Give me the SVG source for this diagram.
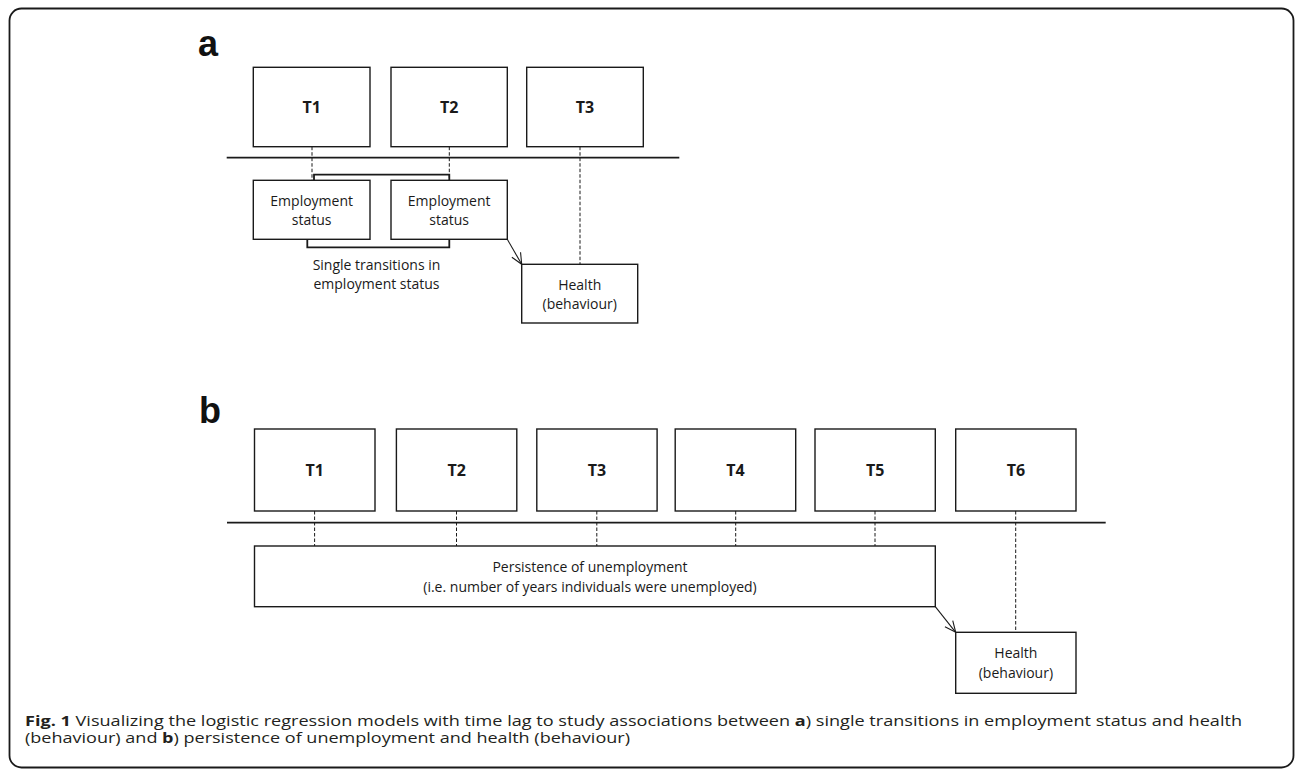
<svg xmlns="http://www.w3.org/2000/svg" width="1295" height="770" viewBox="0 0 1295 770">
<style>
.box{fill:#fff;stroke:#1a1a1a;stroke-width:1.4}
.tl{font-family:"Open Sans","Liberation Sans",sans-serif;font-weight:bold;font-size:16px;fill:#1a1a1a;text-anchor:middle}
.lb{font-family:"Open Sans","Liberation Sans",sans-serif;font-size:14px;fill:#1a1a1a;text-anchor:middle}
.pl{font-family:"Liberation Sans",Arial,sans-serif;font-weight:bold;font-size:36px;fill:#111}
.axis{stroke:#1a1a1a;stroke-width:1.8;fill:none}
.dash{stroke:#1a1a1a;stroke-width:1;stroke-dasharray:3.5 2;fill:none}
.brk{stroke:#1a1a1a;stroke-width:1.8;fill:none}
.arr{stroke:#1a1a1a;stroke-width:1.1;fill:none;marker-end:url(#oa)}
.cap{font-family:"Open Sans","Liberation Sans",sans-serif;font-size:14.5px;fill:#231f20}
</style>
<defs>
<marker id="oa" markerWidth="14" markerHeight="14" refX="12" refY="6" orient="auto" markerUnits="userSpaceOnUse">
<path d="M1,1 L12,6 L1,11" fill="none" stroke="#1a1a1a" stroke-width="1.1"/>
</marker>
</defs>
<rect x="9.5" y="8.5" width="1284" height="759" rx="12" ry="12" fill="#fff" stroke="#1a1a1a" stroke-width="1.8"/>

<text class="pl" x="198" y="56">a</text>
<text class="pl" x="199" y="422.7">b</text>

<g id="connectors">
<line class="axis" x1="226.7" y1="157.7" x2="679.3" y2="157.7"/>
<line class="dash" x1="312" y1="146.7" x2="312" y2="180.3"/>
<line class="dash" x1="449.3" y1="146.7" x2="449.3" y2="180.3"/>
<line class="dash" x1="580" y1="146.7" x2="580" y2="264.3"/>
<path class="brk" d="M314,180.3 V174.7 H449.3 V180.3"/>
<path class="brk" d="M307.3,239.3 V247.3 H449.3 V239.3"/>
<line class="arr" x1="507.3" y1="239.3" x2="521.7" y2="264.3"/>

<line class="axis" x1="227" y1="522.7" x2="1105.7" y2="522.7"/>
<line class="dash" x1="314.6" y1="511" x2="314.6" y2="546"/>
<line class="dash" x1="456.5" y1="511" x2="456.5" y2="546"/>
<line class="dash" x1="596.8" y1="511" x2="596.8" y2="546"/>
<line class="dash" x1="735.7" y1="511" x2="735.7" y2="546"/>
<line class="dash" x1="875" y1="511" x2="875" y2="546"/>
<line class="dash" x1="1015.7" y1="511" x2="1015.7" y2="632.3"/>
<line class="arr" x1="935.3" y1="606.7" x2="955.7" y2="632.3"/>
</g>

<g id="a-T1"><rect class="box" x="253.3" y="67.3" width="116.7" height="79.4"/><text class="tl" x="311.7" y="113.3">T1</text></g>
<g id="a-T2"><rect class="box" x="391" y="67.3" width="116.3" height="79.4"/><text class="tl" x="449.2" y="113.3">T2</text></g>
<g id="a-T3"><rect class="box" x="526.7" y="67.3" width="116.6" height="79.4"/><text class="tl" x="585" y="113.3">T3</text></g>
<g id="a-emp1"><rect class="box" x="253.3" y="180.3" width="116.7" height="59"/><text class="lb" x="311.7" y="206">Employment</text><text class="lb" x="311.7" y="225">status</text></g>
<g id="a-emp2"><rect class="box" x="391" y="180.3" width="116.3" height="59"/><text class="lb" x="449.2" y="206">Employment</text><text class="lb" x="449.2" y="225">status</text></g>
<g id="a-trans"><text class="lb" x="376.5" y="270">Single transitions in</text><text class="lb" x="376.5" y="289">employment status</text></g>
<g id="a-health"><rect class="box" x="521.7" y="264.3" width="116" height="58.7"/><text class="lb" x="579.7" y="290">Health</text><text class="lb" x="579.7" y="309">(behaviour)</text></g>

<g id="b-T1"><rect class="box" x="254.5" y="429" width="120.5" height="82"/><text class="tl" x="314.7" y="475.7">T1</text></g>
<g id="b-T2"><rect class="box" x="396.4" y="429" width="120.4" height="82"/><text class="tl" x="456.6" y="475.7">T2</text></g>
<g id="b-T3"><rect class="box" x="536.8" y="429" width="120.3" height="82"/><text class="tl" x="597" y="475.7">T3</text></g>
<g id="b-T4"><rect class="box" x="675.2" y="429" width="120.5" height="82"/><text class="tl" x="735.5" y="475.7">T4</text></g>
<g id="b-T5"><rect class="box" x="815" y="429" width="120.3" height="82"/><text class="tl" x="875.2" y="475.7">T5</text></g>
<g id="b-T6"><rect class="box" x="955.7" y="429" width="120.3" height="82"/><text class="tl" x="1015.9" y="475.7">T6</text></g>
<g id="b-persist"><rect class="box" x="254.5" y="546" width="680.8" height="60.7"/><text class="lb" x="590" y="571.7">Persistence of unemployment</text><text class="lb" x="590" y="591.7">(i.e. number of years individuals were unemployed)</text></g>
<g id="b-health"><rect class="box" x="955.7" y="632.3" width="120.3" height="61"/><text class="lb" x="1015.9" y="658">Health</text><text class="lb" x="1015.9" y="678">(behaviour)</text></g>

<text class="cap" x="25" y="725.7" textLength="1217" lengthAdjust="spacingAndGlyphs"><tspan font-weight="bold">Fig. 1</tspan> Visualizing the logistic regression models with time lag to study associations between <tspan font-weight="bold">a</tspan>) single transitions in employment status and health</text>
<text class="cap" x="25" y="743.3" textLength="605" lengthAdjust="spacingAndGlyphs">(behaviour) and <tspan font-weight="bold">b</tspan>) persistence of unemployment and health (behaviour)</text>
</svg>
